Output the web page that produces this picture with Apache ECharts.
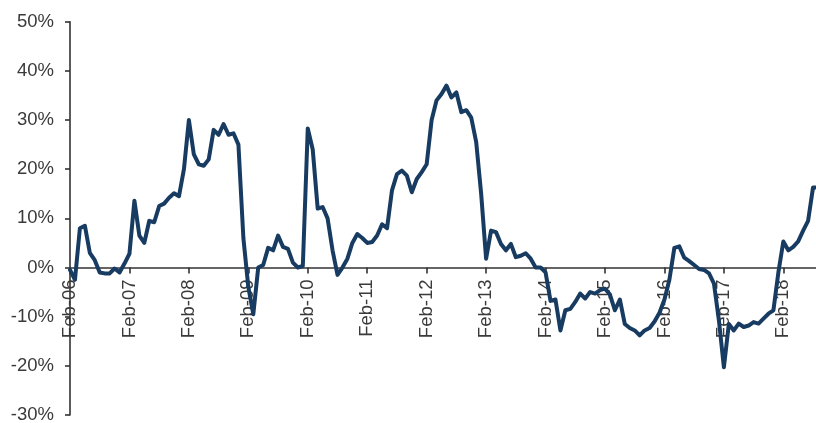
<!DOCTYPE html>
<html>
<head>
<meta charset="utf-8">
<script src="https://cdn.jsdelivr.net/npm/echarts/dist/echarts.min.js"></script>
<style>
  html, body { margin: 0; padding: 0; background: #ffffff; }
  #chart { width: 816px; height: 423px; }
</style>
</head>
<body>
<div id="chart"></div>
<script>
// Monthly year-on-year change (%), Feb-2006 through Sep-2018
const startYear = 2006;
const startMonth = 1; // February (0-based)
const monthNames = ['Jan', 'Feb', 'Mar', 'Apr', 'May', 'Jun', 'Jul', 'Aug', 'Sep', 'Oct', 'Nov', 'Dec'];

const yoyChange = [
  -0.5, -2.5, 8, 8.5, 3, 1.5, -1, -1.2, -1.2, -0.2, -1, 0.8,
  2.8, 13.6, 6.5, 5, 9.5, 9.2, 12.5, 13, 14.2, 15.1, 14.5, 20,
  30, 23, 21, 20.7, 22, 28, 27, 29.2, 27, 27.3, 25, 6,
  -4, -9.5, 0, 0.5, 4, 3.5, 6.5, 4.2, 3.8, 1, 0, 0.3,
  28.3, 24, 12, 12.3, 10, 3.5, -1.5, 0, 1.8, 5, 6.8, 6,
  5, 5.2, 6.5, 8.8, 8, 15.7, 19, 19.7, 18.7, 15.3, 18, 19.4,
  21, 30, 34, 35.3, 37, 34.6, 35.6, 31.6, 32, 30.5, 25.5, 15,
  1.8, 7.5, 7.2, 4.8, 3.5, 4.8, 2.1, 2.4, 2.9, 1.8, 0, 0,
  -1, -6.8, -6.5, -12.8, -8.7, -8.4, -7, -5.3, -6.3, -5, -5.3, -4.6,
  -4.3, -5.5, -8.7, -6.5, -11.5, -12.3, -12.8, -13.8, -12.8, -12.3, -11, -9.2,
  -6.5, -2.5, 4, 4.3, 2, 1.3, 0.5, -0.3, -0.5, -1.2, -3.3, -10.8,
  -20.3, -11.5, -12.8, -11.4, -12.1, -11.8, -11.1, -11.4, -10.4, -9.4, -8.7, -1,
  5.3, 3.5, 4.2, 5.3, 7.5, 9.5, 16.3, 16.3
];

// Month labels such as "Feb-06"
const months = yoyChange.map((_, i) => {
  const m = (startMonth + i) % 12;
  const y = startYear + Math.floor((startMonth + i) / 12);
  return monthNames[m] + '-' + String(y % 100).padStart(2, '0');
});

const yTicks = { min: -30, max: 50, step: 10 };

const axisColor = '#333333';
const textColor = '#3a3a3a';
const lineColor = '#183b62';
const fontFamily = '"Liberation Sans", Arial, sans-serif';

const W = 816, H = 423;
const gridTop = 21.7, gridBottom = 8;
const plotHeight = H - gridTop - gridBottom;
// Shift the category axis (line, ticks, labels) up to the zero level
const zeroOffset = -plotHeight * (0 - yTicks.min) / (yTicks.max - yTicks.min);

const chart = echarts.init(document.getElementById('chart'), null, { renderer: 'canvas' });

chart.setOption({
  animation: false,
  backgroundColor: '#ffffff',
  grid: {
    left: 70, right: -2, top: gridTop, bottom: gridBottom,
    containLabel: false,
    outerBoundsMode: 'none'
  },
  xAxis: {
    type: 'category',
    data: months,
    boundaryGap: false,
    position: 'bottom',
    offset: zeroOffset,
    axisLine: { onZero: false, lineStyle: { color: axisColor, width: 1.6 } },
    axisTick: { show: true, interval: 11, length: 6, lineStyle: { color: axisColor, width: 1.6 } },
    axisLabel: {
      interval: 11,
      rotate: 90,
      margin: 12,
      fontSize: 18.5,
      color: textColor,
      fontFamily: fontFamily
    },
    splitLine: { show: false }
  },
  yAxis: {
    type: 'value',
    min: yTicks.min,
    max: yTicks.max,
    interval: yTicks.step,
    axisLine: { show: true, lineStyle: { color: axisColor, width: 1.6 } },
    axisTick: { show: true, length: 5, lineStyle: { color: axisColor, width: 1.6 } },
    axisLabel: {
      formatter: '{value}%',
      margin: 16,
      fontSize: 18.5,
      color: textColor,
      fontFamily: fontFamily
    },
    splitLine: { show: false }
  },
  series: [{
    type: 'line',
    data: yoyChange,
    showSymbol: false,
    symbol: 'none',
    smooth: false,
    lineStyle: { color: lineColor, width: 4, join: 'round', cap: 'round' },
    itemStyle: { color: lineColor }
  }]
});
</script>
</body>
</html>
